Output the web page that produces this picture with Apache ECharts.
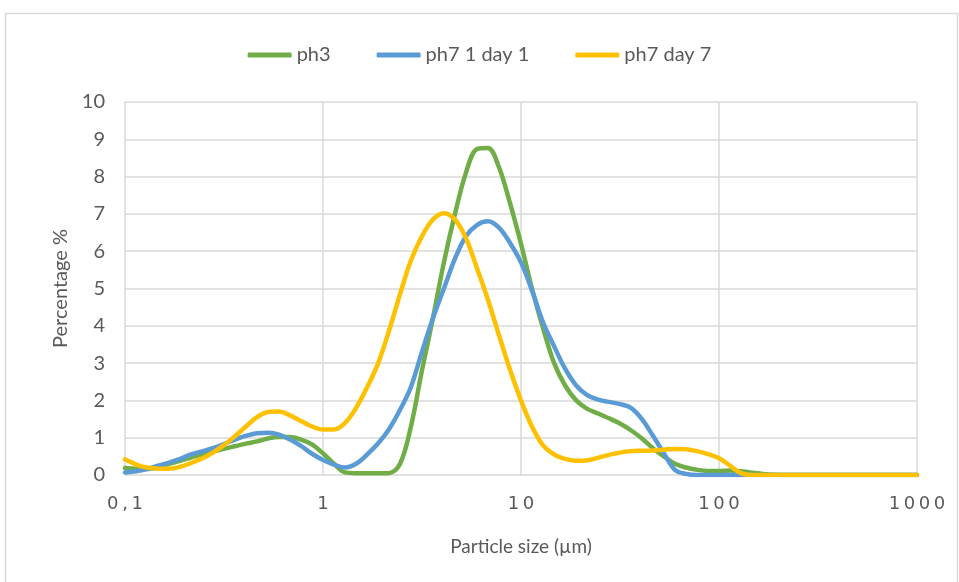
<!DOCTYPE html>
<html>
<head>
<meta charset="utf-8">
<script src="https://cdn.jsdelivr.net/npm/echarts@6/dist/echarts.min.js"></script>
<style>html,body{margin:0;padding:0;background:#fff;}#c{width:959px;height:582px;}</style>
</head>
<body>
<div id="c"></div>
<script>
// Particle sizes (µm), log-spaced
const sizes = [0.1,0.114,0.129,0.147,0.167,0.19,0.215,0.245,0.278,0.316,0.359,0.408,0.464,0.527,0.6,0.681,0.774,0.88,
  1,1.136,1.29,1.47,1.67,1.9,2.15,2.45,2.78,3.16,3.59,4.08,4.64,5.27,5.99,6.81,7.74,8.8,
  10,11.36,12.9,14.7,16.7,19,21.5,24.5,27.8,31.6,35.9,40.8,46.4,52.7,59.9,68.1,77.4,88,
  100,113.6,129,147,167,190,215,300,500,700,1000];
const ph3 = [0.19,0.17,0.16,0.22,0.3,0.38,0.47,0.55,0.62,0.7,0.77,0.84,0.9,0.98,1.02,1.02,0.95,0.82,
  0.58,0.3,0.07,0.05,0.05,0.05,0.05,0.3,1.3,2.8,4.2,5.7,7.0,8.1,8.74,8.77,8.25,7.29,
  6.2,5.0,3.95,3.0,2.4,2.0,1.78,1.65,1.52,1.38,1.2,0.98,0.72,0.5,0.3,0.2,0.14,0.11,
  0.11,0.12,0.1,0.06,0.03,0.01,0,0,0,0,0];
const ph7day1 = [0.07,0.1,0.16,0.25,0.33,0.43,0.55,0.63,0.72,0.83,0.95,1.05,1.12,1.13,1.08,0.95,0.78,0.57,
  0.4,0.28,0.2,0.3,0.55,0.85,1.22,1.75,2.36,3.3,4.2,5.0,5.8,6.4,6.7,6.8,6.63,6.22,
  5.7,4.95,4.1,3.45,2.85,2.4,2.15,2.02,1.96,1.9,1.8,1.5,1.05,0.58,0.14,0.03,0,0,
  0,0,0,0,0,0,0,0,0,0,0];
const ph7day7 = [0.42,0.28,0.2,0.17,0.17,0.22,0.32,0.44,0.6,0.8,1.04,1.3,1.55,1.69,1.7,1.6,1.45,1.3,
  1.22,1.22,1.39,1.8,2.35,3.0,3.85,4.85,5.75,6.4,6.85,7.02,6.85,6.35,5.55,4.7,3.75,2.82,
  2.0,1.3,0.8,0.55,0.43,0.38,0.39,0.46,0.54,0.6,0.64,0.65,0.66,0.68,0.7,0.69,0.64,0.56,
  0.45,0.25,0.05,0,0,0,0,0,0,0,0];
const seriesNames = ['ph3','ph7 1 day 1','ph7 day 7'];
const colors = ['#70AD47','#5B9BD5','#FFC000'];
const xTickLabels = {0.1:'0,1',1:'1',10:'10',100:'100',1000:'1000'};

const pair = arr => sizes.map((s,i)=>[s,arr[i]]);
const font = 'Lato,"Open Sans",sans-serif';
const chart = echarts.init(document.getElementById('c'), null, {renderer:'canvas'});
const mk = (name, arr, color) => ({
  name, type:'line', data: pair(arr), smooth:0.35, symbol:'none',
  lineStyle:{width:4.5, color, cap:'round', join:'round'}, itemStyle:{color}
});
chart.setOption({
  animation:false,
  graphic:[{type:'rect', shape:{x:5.5,y:13.5,width:952,height:600}, style:{fill:'none', stroke:'#D9D9D9', lineWidth:1.5}, silent:true}],
  legend:{
    top:40, left:'center', itemWidth:44, itemHeight:5, itemGap:46,
    icon:'roundRect',
    textStyle:{color:'#595959', fontSize:20, fontFamily:font},
    data:seriesNames
  },
  grid:{left:125, right:42, top:102, bottom:107, containLabel:false},
  xAxis:{
    type:'log', logBase:10, min:0.1, max:1000,
    name:'Particle size (µm)', nameLocation:'middle', nameGap:62,
    nameTextStyle:{color:'#595959', fontSize:19, fontFamily:font},
    axisLine:{show:false}, axisTick:{show:false},
    axisLabel:{color:'#595959', fontSize:18, fontFamily:'"DejaVu Sans",sans-serif', margin:20,
      formatter:v=>{const k=Object.keys(xTickLabels).find(t=>Math.abs(Math.log10(+t)-Math.log10(v))<1e-6); const s=k?xTickLabels[k]:''; return s.split('').join('\u2009');}},
    splitLine:{show:true, lineStyle:{color:'#D9D9D9', width:1.5}}
  },
  yAxis:{
    type:'value', min:0, max:10, interval:1,
    name:'Percentage %', nameLocation:'middle', nameGap:52, nameRotate:90,
    nameTextStyle:{color:'#595959', fontSize:20, fontFamily:font},
    axisLine:{show:false}, axisTick:{show:false},
    axisLabel:{color:'#595959', fontSize:20, fontFamily:font, margin:20},
    splitLine:{show:true, lineStyle:{color:'#D9D9D9', width:1.5}}
  },
  color:colors,
  series:[mk(seriesNames[0],ph3,colors[0]), mk(seriesNames[1],ph7day1,colors[1]), mk(seriesNames[2],ph7day7,colors[2])]
});
</script>
</body>
</html>
